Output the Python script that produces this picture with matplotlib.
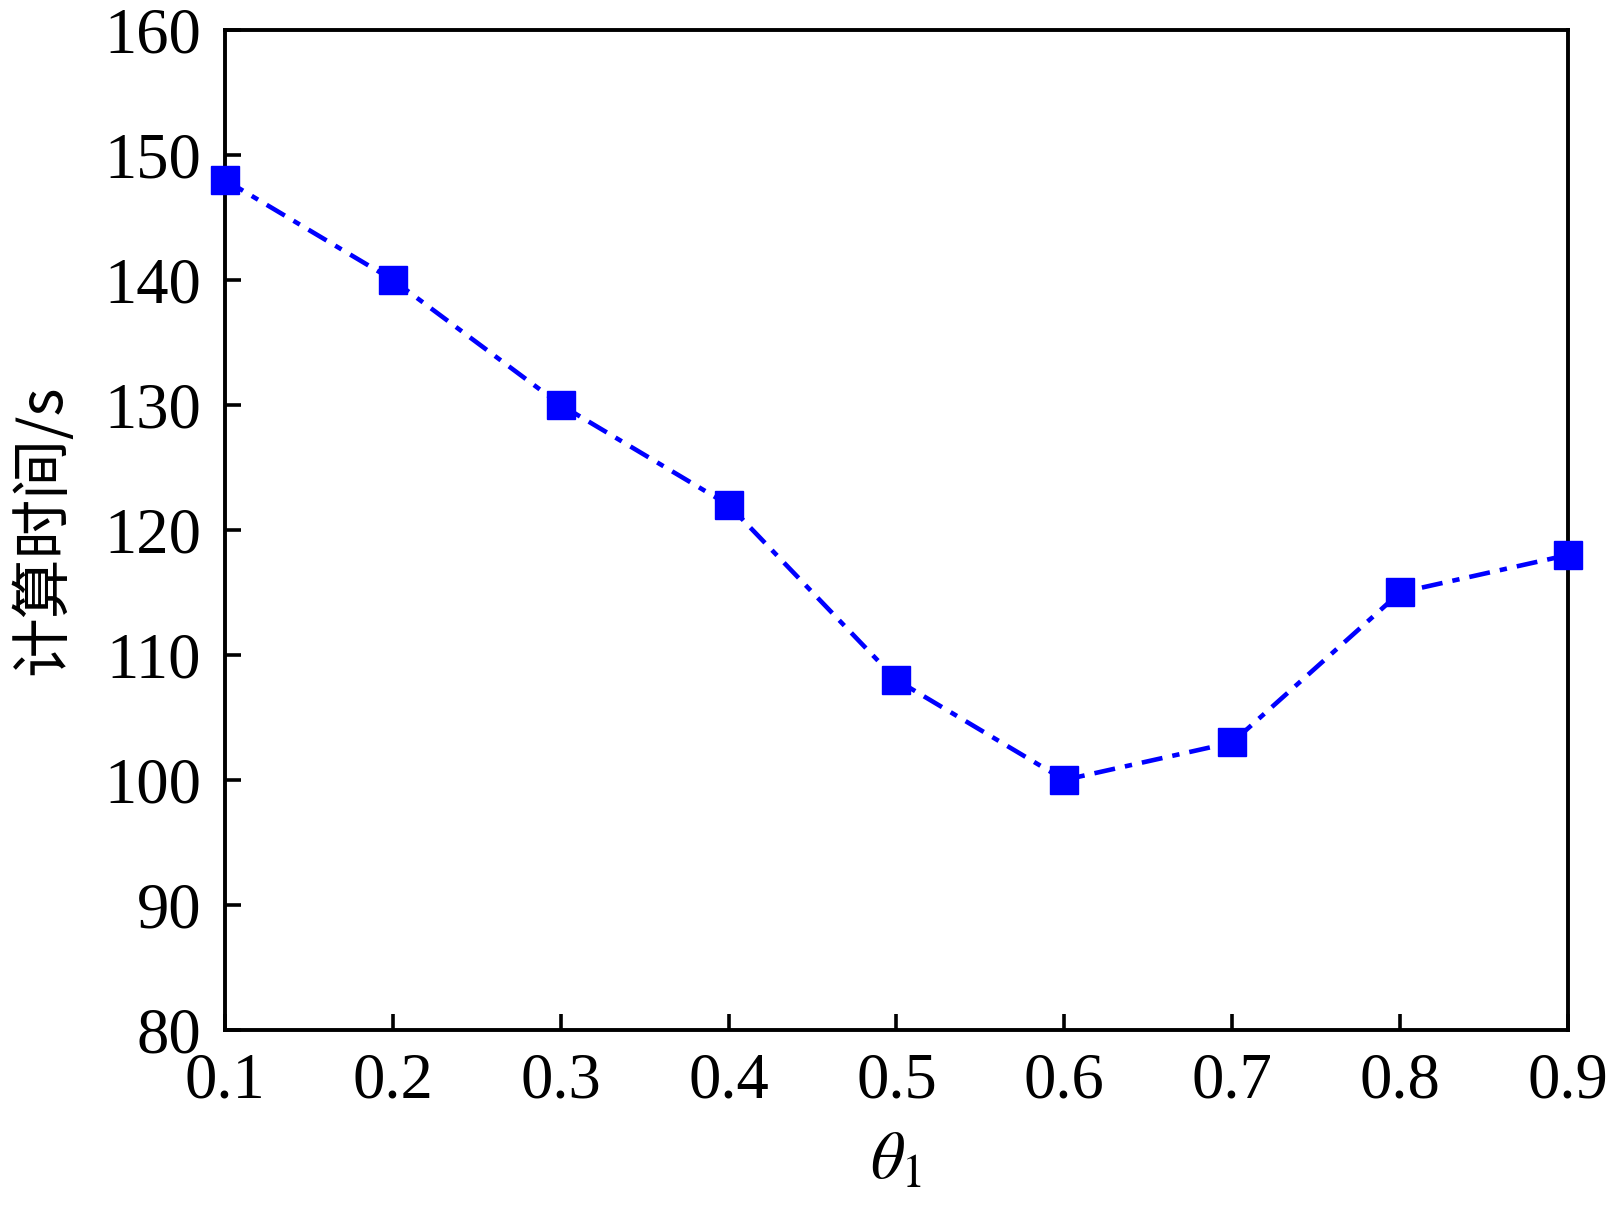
import matplotlib
matplotlib.use('Agg')
import matplotlib.pyplot as plt

theta = [0.1, 0.2, 0.3, 0.4, 0.5, 0.6, 0.7, 0.8, 0.9]
calc_time = [148, 140, 130, 122, 108, 100, 103, 115, 118]
x_ticks = [0.1, 0.2, 0.3, 0.4, 0.5, 0.6, 0.7, 0.8, 0.9]
y_ticks = [80, 90, 100, 110, 120, 130, 140, 150, 160]

plt.rcParams['font.family'] = ['Liberation Serif', 'Noto Sans CJK SC']
plt.rcParams['mathtext.fontset'] = 'stix'

fig = plt.figure(figsize=(16.07, 12.13), dpi=100)
ax = fig.add_axes([0.140, 0.1509, 0.8357, 0.8244])

ax.plot(theta, calc_time, color='#0000ff', linewidth=3.3, dashes=(4.6, 2.2, 1.6, 2.2),
        marker='s', markersize=19.5, clip_on=False, zorder=3)

ax.set_xlim(0.1, 0.9)
ax.set_ylim(80, 160)
ax.set_xticks(x_ticks)
ax.set_yticks(y_ticks)
ax.set_xticklabels(['%.1f' % v for v in x_ticks])
ax.tick_params(direction='in', length=11.5, width=2.6, labelsize=46.5)
ax.tick_params(axis='x', pad=16)
ax.tick_params(axis='y', pad=17)

for s in ax.spines.values():
    s.set_linewidth(2.8)

ax.set_xlabel(r'$\theta_1$', fontsize=48, labelpad=14)
ax.set_ylabel('计算时间/s', fontsize=43, labelpad=22,
              family=['Noto Sans CJK SC', 'Liberation Serif'])

fig.savefig('out.png', dpi=100)
